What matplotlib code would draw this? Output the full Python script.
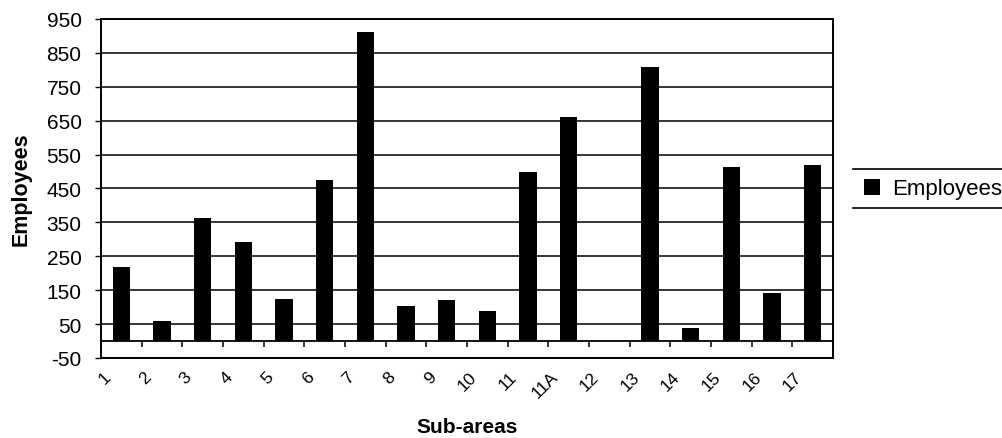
import matplotlib
matplotlib.use("Agg")
import matplotlib.pyplot as plt
import matplotlib.transforms as mtransforms
from matplotlib.lines import Line2D
import numpy as np

plt.rcParams['font.family'] = ['Liberation Sans', 'DejaVu Sans']

categories = ["1", "2", "3", "4", "5", "6", "7", "8", "9", "10", "11", "11A",
              "12", "13", "14", "15", "16", "17"]
employees = [218, 58, 362, 291, 123, 475, 911, 104, 122, 88, 498, 662,
             0, 808, 38, 513, 143, 519]
y_ticks = list(range(-50, 951, 100))

W, H = 1003, 439
fig = plt.figure(figsize=(W / 100, H / 100), dpi=100)
ax = fig.add_axes([101 / W, 1 - 359 / H, (833 - 101) / W, (359 - 20) / H])

x = np.arange(len(categories))
ax.bar(x, employees, width=0.43, color='black', label='Employees', zorder=3)

ax.set_xlim(-0.5, len(categories) - 0.5)
ax.set_ylim(y_ticks[0], y_ticks[-1])
ax.set_yticks(y_ticks)
ax.set_yticklabels([str(v) for v in y_ticks], fontsize=15)
ax.tick_params(axis='y', direction='out', length=4.5, width=1.0, pad=9.5, colors='black')
ax.yaxis.grid(True, color='black', linewidth=1.1, zorder=1)
ax.set_axisbelow(True)

# category axis crossing at zero with tick marks at category boundaries
ax.axhline(0, color='black', linewidth=1.3, zorder=2)
bounds = np.arange(len(categories) - 1) + 0.5
ax.vlines(bounds, -18, 0, color='black', linewidth=1.1, zorder=2)

ax.set_xticks(x)
ax.set_xticklabels(categories, rotation=45, ha='right', va='top', fontsize=12.5)
ax.tick_params(axis='x', length=0, pad=7.5)
offset = mtransforms.ScaledTranslation(-8 / 100, 0, fig.dpi_scale_trans)
for lab in ax.get_xticklabels():
    lab.set_transform(lab.get_transform() + offset)

for s in ax.spines.values():
    s.set_color('black')
    s.set_linewidth(1.4)

fig.text(21 / W, 1 - 189 / H, "Employees", rotation=90, ha='center', va='center',
         fontsize=15.5, fontweight='bold')
fig.text(467 / W, 1 - 428 / H, "Sub-areas", ha='center', va='center',
         fontsize=15, fontweight='bold')

leg = fig.legend(loc='center left', bbox_to_anchor=(864 / W, 1 - 190 / H),
                 frameon=False, fontsize=16, handlelength=0.7, handleheight=0.7,
                 handletextpad=0.55, borderpad=0, borderaxespad=0)
fig.add_artist(Line2D([853 / W, 1.0], [1 - 170 / H] * 2, transform=fig.transFigure,
                      color='black', linewidth=1.2))
fig.add_artist(Line2D([853 / W, 1.0], [1 - 209 / H] * 2, transform=fig.transFigure,
                      color='black', linewidth=1.2))

fig.savefig("out.png", dpi=100)
